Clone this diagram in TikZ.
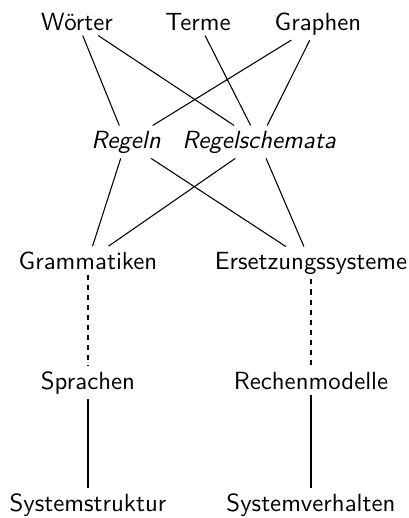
\documentclass[tikz,border=0pt]{standalone}
\begin{document}
\begin{tikzpicture}[x=0.4167pt,y=-0.4167pt,
  lbl/.style={font=\sffamily\fontsize{10.35pt}{12pt}\selectfont, anchor=base, inner sep=2pt},
  il/.style={font=\sffamily\itshape\fontsize{10.35pt}{12pt}\selectfont, anchor=base, inner sep=2pt},
  edge/.style={draw=black, line width=0.45pt},
  dedge/.style={draw=black, line width=0.45pt, dash pattern=on 2.1pt off 2.1pt}]
\useasboundingbox (0,0) rectangle (409,518);
\node[lbl] (w) at (77,30) {Wörter};
\node[lbl] (t) at (198,30) {Terme};
\node[lbl] (g) at (318,30) {Graphen};
\node[il] (r) at (126,148) {Regeln};
\node[il] (rs) at (259,148) {Regelschemata};
\node[lbl] (gr) at (88,269) {Grammatiken};
\node[lbl] (es) at (311,269) {Ersetzungssysteme};
\node[lbl] (sp) at (88,389) {Sprachen};
\node[lbl] (rm) at (311,389) {Rechenmodelle};
\node[lbl] (ss) at (88,511) {Systemstruktur};
\node[lbl] (sv) at (311,511) {Systemverhalten};
\draw[edge] (w) -- (r);
\draw[edge] (w) -- (rs);
\draw[edge] (t) -- (rs);
\draw[edge] (g) -- (r);
\draw[edge] (g) -- (rs);
\draw[edge] (r) -- (gr);
\draw[edge] (r) -- (es);
\draw[edge] (rs) -- (gr);
\draw[edge] (rs) -- (es);
\draw[dedge] (gr) -- (sp);
\draw[dedge] (es) -- (rm);
\draw[edge] (sp) -- (ss);
\draw[edge] (rm) -- (sv);
\end{tikzpicture}
\end{document}
